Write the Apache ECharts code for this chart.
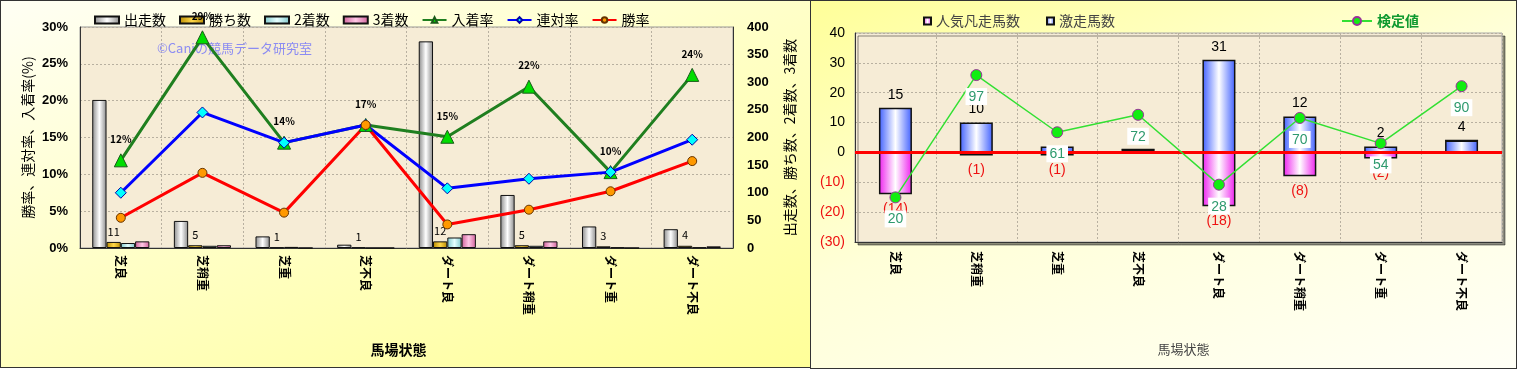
<!DOCTYPE html>
<html><head><meta charset="utf-8">
<script src="https://cdn.jsdelivr.net/npm/echarts@6/dist/echarts.min.js"></script>
<style>
html,body{margin:0;padding:0;background:#fff;}
#wrap{position:relative;width:1518px;height:369px;overflow:hidden;}
#bgL{position:absolute;left:0;top:0;width:809px;height:366px;border:1px solid #333;background:linear-gradient(160deg,#fffff4 0%,#ffffc8 45%,#ffff99 100%);}
#bgR{position:absolute;left:810px;top:0;width:705px;height:367px;border:1px solid #333;background:linear-gradient(160deg,#ffff99 0%,#ffffd8 45%,#fffff6 100%);}
#chart{position:absolute;left:0;top:0;width:1518px;height:369px;}
</style></head><body>
<div id="wrap"><div id="bgL"></div><div id="bgR"></div><div id="chart"></div></div>
<script>
// ---- data ----
const categories = ['芝良','芝稍重','芝重','芝不良','ダート良','ダート稍重','ダート重','ダート不良'];
const starters = [268, 49, 21, 6, 374, 96, 39, 34];
const wins     = [11, 5, 1, 1, 12, 5, 3, 4];
const seconds  = [9, 4, 2, 0, 19, 4, 1, 1];
const thirds   = [12, 5, 0, 0, 25, 12, 0, 3];
const placeRate   = [11.9, 28.6, 14.3, 16.7, 15.1, 21.9, 10.3, 23.5];
const rentaiRate  = [7.5, 18.4, 14.3, 16.7, 8.1, 9.4, 10.3, 14.7];
const winRate     = [4.1, 10.2, 4.8, 16.7, 3.2, 5.2, 7.7, 11.8];
const gekisou  = [15, 10, 2, 1, 31, 12, 2, 4];
const bonsou   = [-14, -1, -1, 0, -18, -8, -2, 0];
const kentei   = [20, 97, 61, 72, 28, 70, 54, 90];

const JP = '"Noto Sans CJK JP","Liberation Sans",sans-serif';
function hgrad(edge, mid){return {type:'linear',x:0,y:0,x2:1,y2:0,colorStops:[{offset:0,color:edge},{offset:0.5,color:mid},{offset:1,color:edge}]};}
const gridLine = {show:true,lineStyle:{color:'#b8b0a0',type:[2,2],width:1}};
const plotBg = '#f6ecd6';

const chart = echarts.init(document.getElementById('chart'), null, {renderer:'canvas'});
const option = {
  backgroundColor:'transparent',
  animation:false,
  textStyle:{fontFamily:JP},
  graphic:[{type:'text',left:157,top:42,z:1,style:{text:'©Caniの競馬データ研究室',fill:'#8c8cf2',font:'13px '+JP}}],
  legend:[
    {data:[{name:'出走数',icon:'rect'},{name:'勝ち数',icon:'rect'},{name:'2着数',icon:'rect'},{name:'3着数',icon:'rect'},'入着率','連対率','勝率'],
     left:89,top:8,itemWidth:24,itemHeight:7,itemGap:13,
     textStyle:{fontSize:14,color:'#000',fontFamily:JP}},
    {data:['人気凡走馬数','激走馬数'],left:918,top:9,icon:'rect',itemWidth:7,itemHeight:7,itemGap:26,
     textStyle:{fontSize:14,color:'#444',fontFamily:JP}},
    {data:['検定値'],left:1336,top:9,itemWidth:30,itemHeight:10,
     textStyle:{fontSize:14,color:'#109a30',fontFamily:JP,fontWeight:'bold'}}
  ],
  grid:[
    {left:80,right:785,top:27,bottom:121,show:true,backgroundColor:plotBg,borderColor:'#999',borderWidth:1},
    {left:855,right:16,top:33,bottom:127,show:true,backgroundColor:plotBg,borderColor:'#aaa',borderWidth:1,
     shadowColor:'rgba(0,0,0,0.45)',shadowOffsetX:3,shadowOffsetY:3,shadowBlur:0}
  ],
  xAxis:[
    {type:'category',gridIndex:0,data:categories,boundaryGap:true,
     axisLine:{lineStyle:{color:'#333'}},axisTick:{show:false},splitLine:gridLine,
     axisLabel:{interval:0,rotate:-90,fontSize:12,fontWeight:'bold',color:'#000',margin:7},
     name:'馬場状態',nameLocation:'middle',nameGap:95,nameTextStyle:{fontSize:14,fontWeight:'bold',color:'#000',padding:[0,16,0,0]}},
    {type:'category',gridIndex:1,data:categories,boundaryGap:true,
     axisLine:{onZero:false,lineStyle:{color:'#333'}},axisTick:{show:false},splitLine:gridLine,
     axisLabel:{interval:0,rotate:-90,fontSize:12,fontWeight:'bold',color:'#000',margin:9},
     name:'馬場状態',nameLocation:'middle',nameGap:101,nameTextStyle:{fontSize:13,color:'#444',padding:[0,0,0,10]}}
  ],
  yAxis:[
    {type:'value',gridIndex:0,min:0,max:30,interval:5,
     axisLine:{show:true,lineStyle:{color:'#333'}},axisTick:{show:false},splitLine:gridLine,
     axisLabel:{formatter:'{value}%',fontSize:13,fontWeight:'bold',color:'#000',margin:12,fontFamily:'"Liberation Sans",sans-serif'},
     name:'勝率、連対率、入着率(%)',nameLocation:'middle',nameGap:45,nameRotate:90,nameTextStyle:{fontSize:14,color:'#000'}},
    {type:'value',gridIndex:0,position:'right',min:0,max:400,interval:50,
     axisLine:{show:true,lineStyle:{color:'#333'}},axisTick:{show:false},splitLine:{show:false},
     axisLabel:{fontSize:13,fontWeight:'bold',color:'#000',margin:14,fontFamily:'"Liberation Sans",sans-serif'},
     name:'出走数、勝ち数、2着数、3着数',nameLocation:'middle',nameGap:50,nameRotate:90,nameTextStyle:{fontSize:14,color:'#000'}},
    {type:'value',gridIndex:1,min:-30,max:40,interval:10,
     axisLine:{show:true,lineStyle:{color:'#333'}},axisTick:{show:false},splitLine:gridLine,
     axisLabel:{fontSize:14,margin:10,fontFamily:'"Liberation Sans",sans-serif',
       formatter:function(v){return v<0?'('+(-v)+')':String(v);},
       color:function(v){return Number(v)<0?'#ee1111':'#000';}}},
    {type:'value',gridIndex:1,min:-8.1,max:123.5,show:false,splitLine:{show:false}}
  ],
  series:[
    {name:'出走数',type:'bar',xAxisIndex:0,yAxisIndex:1,data:starters,barGap:'0%',barCategoryGap:'30%',
     itemStyle:{color:hgrad('#8a8a8a','#ffffff'),borderColor:'#111',borderWidth:1}},
    {name:'勝ち数',type:'bar',xAxisIndex:0,yAxisIndex:1,data:wins,
     itemStyle:{color:hgrad('#b88a00','#ffd84a'),borderColor:'#111',borderWidth:1},
     label:{show:true,position:'top',distance:5,fontSize:11,color:'#000'}},
    {name:'2着数',type:'bar',xAxisIndex:0,yAxisIndex:1,data:seconds,
     itemStyle:{color:hgrad('#7fc8cc','#e6ffff'),borderColor:'#111',borderWidth:1}},
    {name:'3着数',type:'bar',xAxisIndex:0,yAxisIndex:1,data:thirds,
     itemStyle:{color:hgrad('#d0609a','#ffc8e6'),borderColor:'#111',borderWidth:1}},
    {name:'入着率',type:'line',xAxisIndex:0,yAxisIndex:0,data:placeRate,z:4,
     lineStyle:{color:'#1f7f1f',width:3},symbol:'triangle',symbolSize:13,
     itemStyle:{color:'#00dd00',borderColor:'#1a5a1a',borderWidth:1},
     label:{show:true,position:'top',distance:9,fontSize:10,fontWeight:'bold',color:'#000',
       formatter:function(p){return Math.round(p.value)+'%';}}},
    {name:'連対率',type:'line',xAxisIndex:0,yAxisIndex:0,data:rentaiRate,z:4,
     lineStyle:{color:'#0000ff',width:3},symbol:'diamond',symbolSize:11,
     itemStyle:{color:'#00ffff',borderColor:'#0000aa',borderWidth:1}},
    {name:'勝率',type:'line',xAxisIndex:0,yAxisIndex:0,data:winRate,z:4,
     lineStyle:{color:'#ff0000',width:3},symbol:'circle',symbolSize:9,
     itemStyle:{color:'#ff9900',borderColor:'#663300',borderWidth:1}},

    {name:'激走馬数',type:'bar',xAxisIndex:1,yAxisIndex:2,data:gekisou,stack:'r',barWidth:33,z:2,
     itemStyle:{color:hgrad('#4060ff','#ffffff'),borderColor:'#111',borderWidth:1.5},
     label:{show:true,position:'top',distance:6,fontSize:14,color:'#000',fontFamily:'"Liberation Sans",sans-serif'},
     markLine:{silent:true,symbol:'none',label:{show:false},lineStyle:{color:'#ff0000',width:3,type:'solid'},data:[{yAxis:0}]}},
    {name:'人気凡走馬数',type:'bar',xAxisIndex:1,yAxisIndex:2,data:bonsou,stack:'r',barWidth:33,z:2,
     itemStyle:{color:hgrad('#ee22ee','#ffffff'),borderColor:'#111',borderWidth:1.5},
     label:{show:true,position:'bottom',distance:8,fontSize:14,color:'#ee1111',fontFamily:'"Liberation Sans",sans-serif',
       formatter:function(p){return p.value===0?'':'('+(-p.value)+')';}}},
    {name:'検定値',type:'line',xAxisIndex:1,yAxisIndex:3,data:kentei,z:6,
     lineStyle:{color:'#33e033',width:1.5},symbol:'circle',symbolSize:11,
     itemStyle:{color:'#11ee11',borderColor:'#993399',borderWidth:1},
     label:{show:true,position:'bottom',distance:7,fontSize:14,color:'#2e9a6e',backgroundColor:'#ffffff',padding:[2,3,1,3],
       fontFamily:'"Liberation Sans",sans-serif'}}
  ]
};
chart.setOption(option);
</script>
</body></html>
